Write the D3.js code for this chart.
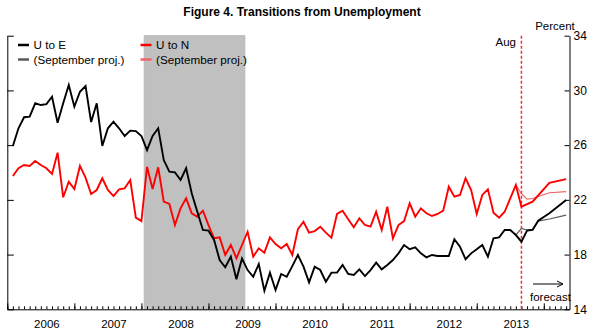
<!DOCTYPE html>
<html>
<head>
<meta charset="utf-8">
<script src="https://cdn.jsdelivr.net/npm/d3@7"></script>
<style>
  html, body { margin: 0; padding: 0; background: #fff; }
  svg { display: block; font-family: "Liberation Sans", Arial, Helvetica, sans-serif; }
</style>
</head>
<body>
<svg id="chart" width="600" height="335"></svg>
<script>
// ---- Data (monthly, month index 0 = Jan 2006) ----
const title = "Figure 4. Transitions from Unemployment";
const yearLabels = ["2006", "2007", "2008", "2009", "2010", "2011", "2012", "2013"];
const yTicks = [14, 18, 22, 26, 30, 34];
const startMonth = 0;            // Jan 2006
const lastActualMonth = 91;      // Aug 2013
const recession = [23.5, 41.5];  // Dec 2007 - Jun 2009

const uToE = [
  25.94, 27.23, 28.04, 28.08, 29.06, 28.93, 29.0, 29.54, 27.64, 29.06,
  30.4, 28.81, 29.9, 30.32, 27.69, 29.06, 25.94, 27.23, 27.71, 27.23,
  26.67, 27.06, 27.03, 26.67, 25.64, 26.67, 27.23, 24.91, 24.06, 24.01,
  23.45, 24.31, 22.48, 21.13, 19.8, 19.75, 19.07, 17.6, 17.07, 17.85,
  16.19, 17.72, 16.87, 16.38, 17.31, 15.36, 16.68, 15.41, 16.58, 16.38,
  17.16, 17.97, 17.12, 15.97, 17.12, 16.87, 16.02, 16.68, 16.68, 17.24,
  16.58, 16.51, 16.92, 16.43, 16.87, 17.41, 16.92, 17.24, 17.6, 18.09,
  18.7, 18.39, 18.53, 18.09, 17.8, 17.97, 17.9, 17.9, 17.9, 19.12,
  18.58, 17.66, 18.09, 18.39, 18.7, 17.85, 19.19, 19.26, 19.8, 19.8,
  19.43, 18.94
];
const uToN = [
  23.74, 24.31, 24.55, 24.48, 24.84, 24.55, 24.31, 23.89, 25.45, 22.19,
  23.33, 22.79, 24.48, 23.62, 22.43, 22.72, 23.58, 22.72, 22.28, 22.77,
  22.84, 23.45, 20.7, 20.45, 24.42, 22.79, 24.38, 21.87, 21.7, 20.16,
  21.38, 22.11, 21.02, 20.77, 21.21, 20.16, 19.19, 19.26, 17.97, 18.7,
  17.73, 18.7, 19.67, 17.85, 18.46, 18.14, 19.26, 18.77, 18.46, 18.77,
  17.97, 19.85, 20.4, 19.6, 19.72, 20.04, 19.6, 19.23, 20.97, 21.21,
  20.58, 19.99, 20.65, 20.16, 20.04, 21.13, 19.8, 21.5, 19.19, 20.16,
  20.45, 21.75, 20.77, 21.38, 21.02, 20.82, 20.97, 21.21, 22.96, 22.23,
  22.36, 23.58, 22.72, 20.97, 22.36, 22.77, 21.06, 20.7, 21.13, 22.11,
  23.09, 21.5
];

// Forecasts (current) and September projections
const fcEMonths = [91, 92, 93, 94, 96, 99];
const fcE = [18.94, 19.75, 19.8, 20.48, 21.02, 21.99];
const fcNMonths = [91, 93, 96, 99];
const fcN = [21.5, 21.87, 23.25, 23.52];
const sepEMonths = [90, 91, 92, 93, 94, 96, 99];
const sepE = [19.43, 19.92, 19.8, 19.85, 20.45, 20.6, 20.89];
const sepNMonths = [90, 91, 92, 93, 96, 99];
const sepN = [23.09, 22.45, 22.05, 22.1, 22.52, 22.6];

// ---- Chart ----
const svg = d3.select("#chart");
const L = 7.3, R = 569.5, T = 35.7, B = 309.3;
const x = d3.scaleLinear().domain([-1, 99.6]).range([L, R]);
const y = d3.scaleLinear().domain([14, 34]).range([B, T]);

const black = "#000000", red = "#ff0000", grayProj = "#5a5a5a", pinkProj = "#ee6464";

// recession shading
svg.append("rect")
  .attr("x", x(recession[0])).attr("y", T)
  .attr("width", x(recession[1]) - x(recession[0])).attr("height", B - T)
  .attr("fill", "#c0c0c0").attr("stroke", "#b8b8b8").attr("stroke-width", 1);

// title
svg.append("text").attr("x", 302).attr("y", 16).attr("text-anchor", "middle")
  .attr("font-size", 12).attr("font-weight", "bold").text(title);

// axes
const monthTicks = d3.range(-1, 100);
const yearTicks = d3.range(-1, 100, 12);

svg.append("g").attr("transform", `translate(0,${B})`)
  .call(d3.axisBottom(x).tickValues(monthTicks).tickSize(-3).tickFormat("").tickSizeOuter(0))
  .call(g => g.select(".domain").attr("stroke", "#000"))
  .call(g => g.selectAll(".tick line").attr("stroke", "#000"));
svg.append("g").attr("transform", `translate(0,${B})`)
  .call(d3.axisBottom(x).tickValues(yearTicks).tickSize(-6).tickFormat("").tickSizeOuter(0))
  .call(g => g.select(".domain").remove())
  .call(g => g.selectAll(".tick line").attr("stroke", "#000"));
svg.append("g").attr("transform", `translate(0,${B})`)
  .call(d3.axisBottom(x).tickValues(yearLabels.map((d, i) => i * 12 + 6)).tickSize(0)
        .tickPadding(11).tickFormat((d, i) => yearLabels[i]))
  .call(g => g.select(".domain").remove())
  .call(g => g.selectAll("text").attr("font-size", 11.5).attr("fill", "#000")
        .attr("font-family", "Liberation Sans, Arial, sans-serif"));

svg.append("g").attr("transform", `translate(${L},0)`)
  .call(d3.axisLeft(y).tickValues(yTicks).tickSize(-6.5).tickFormat("").tickSizeOuter(0))
  .call(g => g.select(".domain").attr("stroke", "#000"))
  .call(g => g.selectAll(".tick line").attr("stroke", "#000"));
svg.append("g").attr("transform", `translate(${R},0)`)
  .call(d3.axisRight(y).tickValues(yTicks).tickSize(-5).tickPadding(-3).tickSizeOuter(0))
  .call(g => g.select(".domain").attr("stroke", "#000"))
  .call(g => g.selectAll(".tick line").attr("stroke", "#000"))
  .call(g => g.selectAll("text").attr("x", 4).attr("font-size", 12).attr("fill", "#000")
        .attr("font-family", "Liberation Sans, Arial, sans-serif"));

svg.append("text").attr("x", 555).attr("y", 30).attr("text-anchor", "middle")
  .attr("font-size", 11.5).text("Percent");

// Aug line
svg.append("line").attr("x1", x(lastActualMonth)).attr("x2", x(lastActualMonth))
  .attr("y1", T).attr("y2", B).attr("stroke", "#ff2a2a").attr("stroke-width", 1.5)
  .attr("stroke-dasharray", "3,2");
svg.append("text").attr("x", 516).attr("y", 46).attr("text-anchor", "end")
  .attr("font-size", 11.5).text("Aug");

// forecast arrow + text
const ay = 284;
svg.append("line").attr("x1", 533).attr("x2", 563).attr("y1", ay).attr("y2", ay)
  .attr("stroke", "#000").attr("stroke-width", 1);
svg.append("path").attr("d", `M557,${ay - 3} L563,${ay} L557,${ay + 3}`)
  .attr("fill", "none").attr("stroke", "#000").attr("stroke-width", 1);
svg.append("text").attr("x", 530).attr("y", 301).attr("font-size", 11.5).text("forecast");

// lines
const line = d3.line().x(d => x(d[0])).y(d => y(d[1]));
const actual = arr => arr.map((v, i) => [startMonth + i, v]);
const pair = (ms, vs) => ms.map((m, i) => [m, vs[i]]);

svg.append("path").datum(pair(sepNMonths, sepN)).attr("d", line)
  .attr("fill", "none").attr("stroke", pinkProj).attr("stroke-width", 1.2);
svg.append("path").datum(pair(sepEMonths, sepE)).attr("d", line)
  .attr("fill", "none").attr("stroke", grayProj).attr("stroke-width", 1.2);
svg.append("path").datum(actual(uToN).concat(pair(fcNMonths, fcN).slice(1))).attr("d", line)
  .attr("fill", "none").attr("stroke", red).attr("stroke-width", 1.9).attr("stroke-linejoin", "miter");
svg.append("path").datum(actual(uToE).concat(pair(fcEMonths, fcE).slice(1))).attr("d", line)
  .attr("fill", "none").attr("stroke", black).attr("stroke-width", 1.9).attr("stroke-linejoin", "miter");

// legend
const legend = [
  { label: "U to E", color: black, w: 2.5, x: 18, y: 45 },
  { label: "(September proj.)", color: grayProj, w: 2.5, x: 18, y: 59.5 },
  { label: "U to N", color: red, w: 2.5, x: 140.5, y: 45 },
  { label: "(September proj.)", color: pinkProj, w: 2.5, x: 140.5, y: 59.5 }
];
legend.forEach(d => {
  svg.append("line").attr("x1", d.x).attr("x2", d.x + 11).attr("y1", d.y).attr("y2", d.y)
    .attr("stroke", d.color).attr("stroke-width", d.w);
  svg.append("text").attr("x", d.x + 15.5).attr("y", d.y + 4.2).attr("font-size", 11.7).text(d.label);
});
</script>
</body>
</html>
